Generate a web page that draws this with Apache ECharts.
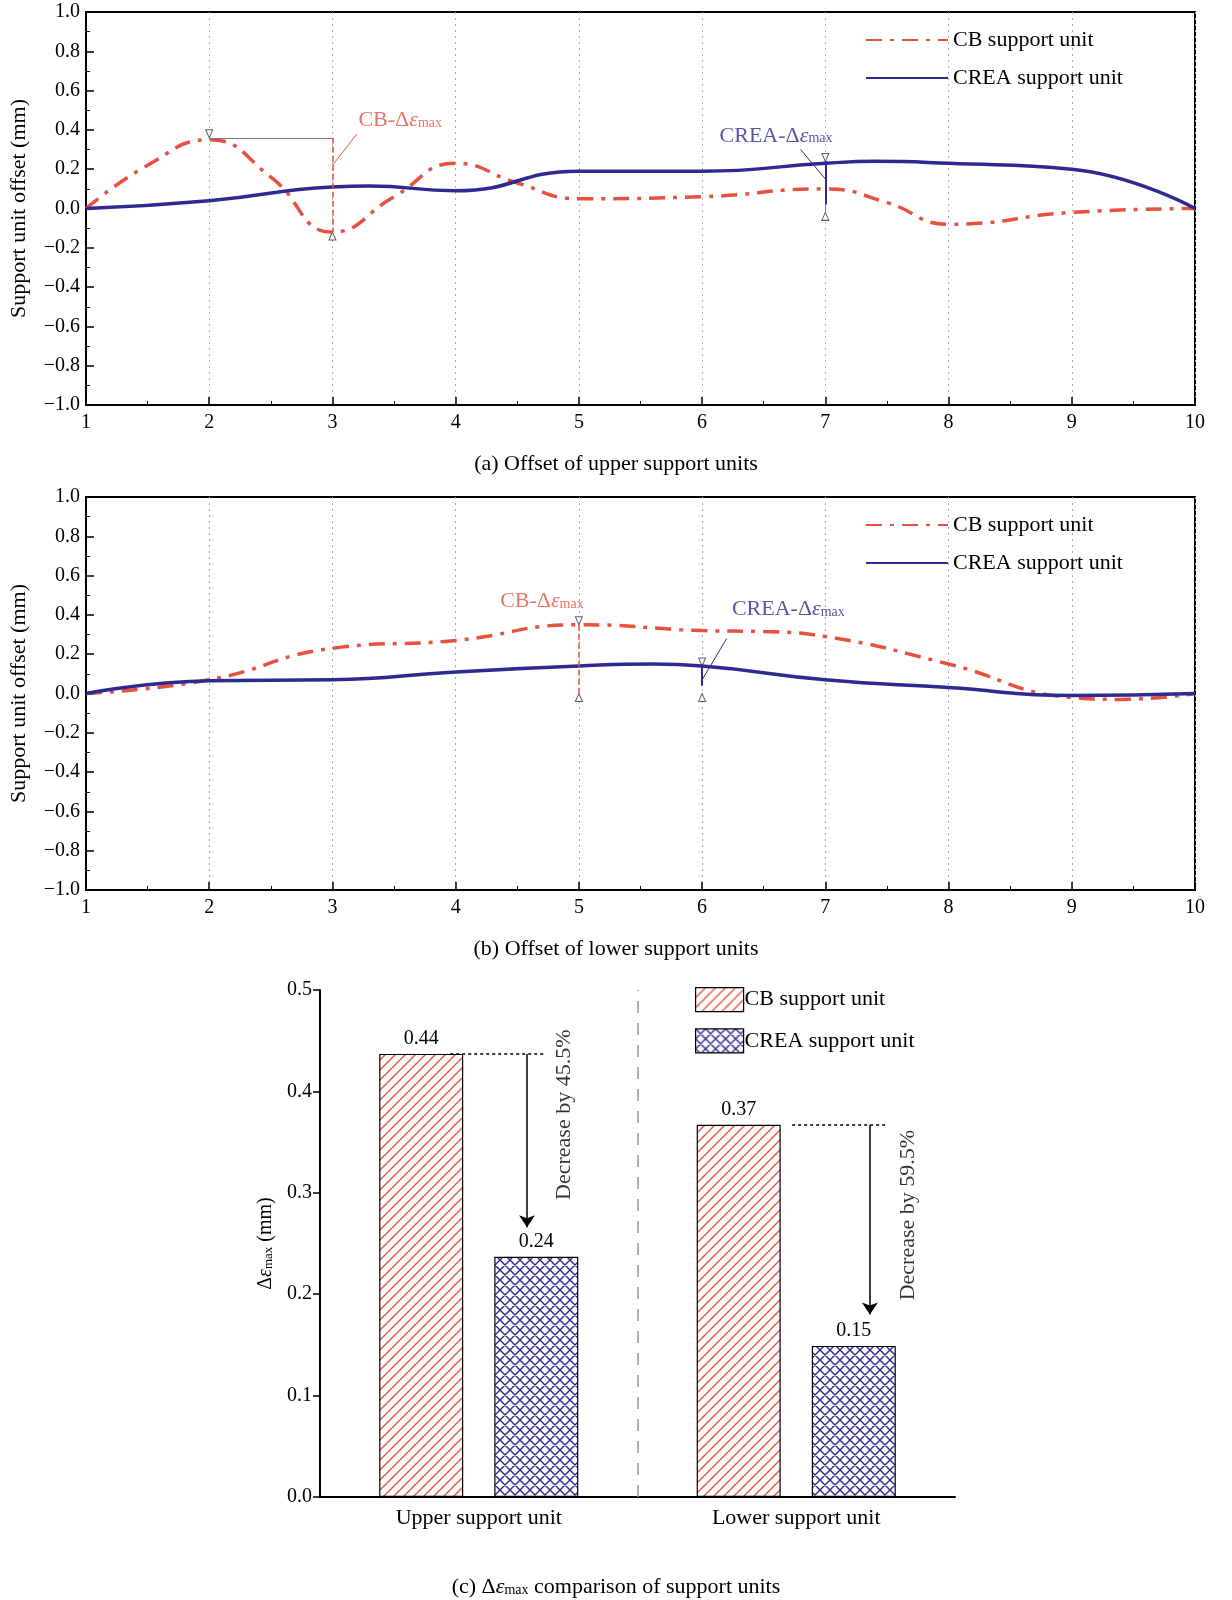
<!doctype html>
<html>
<head>
<meta charset="utf-8">
<script src="https://cdn.jsdelivr.net/npm/echarts@6/dist/echarts.min.js"></script>
<style>html,body{margin:0;background:#fff;overflow:hidden}#c{width:1232px;height:1600px}</style>
</head>
<body>
<div id="c"></div>
<script>
// panel (a) upper units
var upperCB = [[1,0],[1.5,0.22],[2,0.35],[2.5,0.16],[3,-0.12],[3.5,0.06],[4,0.23],[4.5,0.13],[5,0.05],[6,0.06],[7,0.1],[7.5,0.03],[8,-0.08],[9,-0.02],[10,0]];
var upperCREA = [[1,0],[2,0.04],[3,0.11],[3.3,0.115],[4,0.09],[5,0.19],[6,0.19],[7,0.23],[7.4,0.24],[8,0.23],[9,0.2],[10,0]];
// panel (b) lower units
var lowerCB = [[1,0],[2,0.07],[3,0.23],[4,0.27],[5,0.35],[6,0.32],[6.5,0.315],[7,0.29],[8,0.15],[9,-0.02],[9.4,-0.03],[10,0]];
var lowerCREA = [[1,0],[2,0.065],[3,0.07],[4,0.11],[5,0.14],[5.6,0.15],[6,0.14],[7,0.07],[8,0.03],[9,-0.01],[10,0]];
// panel (c)
var barCats = ['Upper support unit','Lower support unit'];
var barCB = [0.437, 0.367];
var barCREA = [0.237, 0.149];
var barLabels = [['0.44','0.37'],['0.24','0.15']];

var RED = '#e8503f', BLUE = '#2e2a8f', FONT = 'Liberation Serif';

function pattern(cross, color) {
  var c = document.createElement('canvas'); c.width = 10; c.height = 10;
  var g = c.getContext('2d');
  g.fillStyle = '#fff'; g.fillRect(0,0,10,10);
  g.strokeStyle = color; g.lineWidth = 1.4;
  g.beginPath(); g.moveTo(-2,12); g.lineTo(12,-2); g.moveTo(-2,2); g.lineTo(2,-2); g.moveTo(8,12); g.lineTo(12,8);
  if (cross) { g.moveTo(-2,-2); g.lineTo(12,12); g.moveTo(-2,8); g.lineTo(2,12); g.moveTo(8,-2); g.lineTo(12,2); }
  g.stroke();
  return {image: c, repeat: 'repeat'};
}

var rich = {e:{fontStyle:'italic',fontFamily:FONT}, s:{fontSize:14,fontFamily:FONT,padding:[6,0,0,0]}};
function fmt(v){ return v.toFixed(1).replace('-','\u2212'); }

var grids = [
  {left:82, right:37, top:12, height:393, show:true, borderColor:'#000', borderWidth:2},
  {left:82, right:37, top:497, height:393, show:true, borderColor:'#000', borderWidth:2},
  {left:320, width:635, top:990, height:507}
];

function xLine(i){ return {type:'value', gridIndex:i, min:1, max:10, interval:1,
  axisLine:{show:true,onZero:false,lineStyle:{color:'#000',width:2}}, axisTick:{inside:true,length:8,lineStyle:{color:'#000',width:1.5}},
  minorTick:{show:true,splitNumber:2,length:4,lineStyle:{color:'#000'}},
  axisLabel:{color:'#000',fontSize:20,fontFamily:FONT,margin:8},
  splitLine:{show:true,lineStyle:{color:'#aaa',type:[2,4]}}}; }
function yLine(i){ return {type:'value', gridIndex:i, min:-1, max:1, interval:0.2,
  name:'Support unit offset (mm)', nameLocation:'middle', nameGap:56, nameTextStyle:{fontSize:22,fontFamily:FONT,color:'#000'},
  axisLine:{show:true,onZero:false,lineStyle:{color:'#000',width:2}}, axisTick:{inside:true,length:8,lineStyle:{color:'#000',width:1.5}},
  minorTick:{show:true,splitNumber:2,length:4,lineStyle:{color:'#000'}},
  axisLabel:{color:'#000',fontSize:20,fontFamily:FONT,formatter:fmt,margin:6},
  splitLine:{show:false}}; }

function curve(name, data, i, dash){
  return {name:name, type:'line', xAxisIndex:i, yAxisIndex:i, data:data, smooth:0.5, symbol:'none',
    lineStyle: dash ? {color:RED,width:3.5,type:[16,8,4,8]} : {color:BLUE,width:3.5},
    itemStyle:{color: dash ? RED : BLUE}};
}
function seg(a,b,color,w,type,sym){ return [{coord:a, lineStyle:{color:color,width:w,type:type||'solid'}, symbol:sym?sym[0]:'none'},{coord:b, symbol:sym?sym[1]:'none'}]; }
function zeroLine(){ return [{yAxis:0, lineStyle:{color:'#999',width:1,type:[5,4]}},{yAxis:0}]; }
function lbl(i, pts){
  return {type:'scatter', xAxisIndex:i, yAxisIndex:i, symbolSize:0, silent:true,
    data: pts.map(function(p){ return {value:[p[0],p[1]], label:{show:true, position:'inside', fontSize:22, fontFamily:FONT, color:p[3],
      formatter:p[2], rich:rich}}; })};
}
function tri(i, pts){
  return {type:'scatter', xAxisIndex:i, yAxisIndex:i, silent:true, symbol:'triangle', symbolSize:[7,8],
    itemStyle:{color:'#fff',borderColor:'#333',borderWidth:1},
    data: pts.map(function(p){ return {value:[p[0],p[1]], symbolRotate:p[2]}; })};
}
function annotations(i, lines){
  return {type:'line', xAxisIndex:i, yAxisIndex:i, data:[], silent:true,
    markLine:{symbol:'none', label:{show:false}, data:lines}};
}
var legText = {fontSize:22,fontFamily:FONT,color:'#000'};

var option = {
  animation:false,
  textStyle:{fontFamily:FONT},
  grid: grids,
  title:[
    {text:'(a) Offset of upper support units', left:'center', top:448, textStyle:{fontSize:22,fontWeight:'normal',fontFamily:FONT,color:'#000'}},
    {text:'(b) Offset of lower support units', left:'center', top:933, textStyle:{fontSize:22,fontWeight:'normal',fontFamily:FONT,color:'#000'}},
    {text:'(c) \u0394{e|\u03b5}{s|max} comparison of support units', left:'center', top:1571,
      textStyle:{fontSize:22,fontWeight:'normal',fontFamily:FONT,color:'#000',rich:{e:{fontStyle:'italic',fontSize:22,fontFamily:FONT},s:{fontSize:14,fontFamily:FONT,padding:[6,0,0,0]}}}}
  ],
  legend:[
    {data:['CB support unit','CREA support unit'], orient:'vertical', left:860, top:24, itemGap:16, itemWidth:82, itemHeight:10,
      textStyle:legText, itemStyle:{opacity:0}},
    {data:['CB support unit ','CREA support unit '], orient:'vertical', left:860, top:509, itemGap:16, itemWidth:82, itemHeight:10,
      textStyle:legText, itemStyle:{opacity:0}},
    {data:['CB support unit  ','CREA support unit  '], orient:'vertical', left:690, top:982, itemGap:16, itemWidth:48, itemHeight:24,
      icon:'rect', itemStyle:{borderColor:'#000',borderWidth:1.2}, textStyle:{fontSize:22,fontFamily:FONT,color:'#000',padding:[0,0,0,-4]}}
  ],
  xAxis:[xLine(0), xLine(1),
    {type:'category', gridIndex:2, data:barCats, axisLine:{lineStyle:{color:'#000',width:2}}, axisTick:{show:false},
      axisLabel:{color:'#000',fontSize:22,fontFamily:FONT,margin:10}},
    {type:'value', gridIndex:2, min:0, max:2, show:false}],
  yAxis:[yLine(0), yLine(1),
    {type:'value', gridIndex:2, min:0, max:0.5, interval:0.1,
      name:'\u0394{e|\u03b5}{s|max} (mm)', nameLocation:'middle', nameGap:44,
      nameTextStyle:{fontSize:20,fontFamily:FONT,color:'#000',rich:{e:{fontStyle:'italic',fontSize:20,fontFamily:FONT},s:{fontSize:13,fontFamily:FONT,padding:[6,0,0,0]}}},
      axisLine:{show:true,lineStyle:{color:'#000',width:2}}, axisTick:{show:true,length:7,lineStyle:{color:'#000',width:1.5}},
      axisLabel:{color:'#000',fontSize:20,fontFamily:FONT,formatter:function(v){return v.toFixed(1);}}, splitLine:{show:false}}],
  series:[
    curve('CB support unit', upperCB, 0, true),
    curve('CREA support unit', upperCREA, 0, false),
    curve('CB support unit ', lowerCB, 1, true),
    curve('CREA support unit ', lowerCREA, 1, false),
    annotations(0, [
      zeroLine(),
      seg([2,0.36],[3,0.36],'#777',1.2),
      seg([3,0.36],[3,-0.12],RED,1.5,[6,3]),
      seg([3,0.22],[3.2,0.38],RED,1),
      seg([7,0.24],[7,0.02],BLUE,2),
      seg([7,0.02],[7,-0.02],'#777',1),
      seg([7,0.15],[6.8,0.3],BLUE,1)
    ]),
    annotations(1, [
      zeroLine(),
      seg([5,0.35],[5,0],RED,1.5,[6,3]),
      seg([6,0.14],[6,0.04],BLUE,2),
      seg([6,0.07],[6.2,0.28],BLUE,1)
    ]),
    lbl(0, [[3.55,0.45,'CB-\u0394{e|\u03b5}{s|max}',RED],[6.6,0.37,'CREA-\u0394{e|\u03b5}{s|max}',BLUE]]),
    lbl(1, [[4.7,0.47,'CB-\u0394{e|\u03b5}{s|max}',RED],[6.7,0.43,'CREA-\u0394{e|\u03b5}{s|max}',BLUE]]),
    tri(0, [[2,0.38,180],[3,-0.14,0],[7,0.26,180],[7,-0.04,0]]),
    tri(1, [[5,0.37,180],[5,-0.02,0],[6,0.16,180],[6,-0.02,0]]),
    {name:'CB support unit  ', type:'bar', xAxisIndex:2, yAxisIndex:2, data:barCB, barWidth:84, barGap:'37%',
      itemStyle:{color:pattern(false,RED), borderColor:'#000', borderWidth:1.2},
      label:{show:true, position:'top', fontSize:20, fontFamily:FONT, color:'#000', formatter:function(p){return barLabels[0][p.dataIndex];}}},
    {name:'CREA support unit  ', type:'bar', xAxisIndex:2, yAxisIndex:2, data:barCREA, barWidth:84,
      itemStyle:{color:pattern(true,BLUE), borderColor:'#000', borderWidth:1.2},
      label:{show:true, position:'top', fontSize:20, fontFamily:FONT, color:'#000', formatter:function(p){return barLabels[1][p.dataIndex];}}},
    {type:'line', xAxisIndex:3, yAxisIndex:2, data:[], silent:true,
      markLine:{symbol:'none', label:{show:false}, symbolSize:12, data:[
        seg([1,0],[1,0.5],'#999',1.5,[12,10]),
        seg([0.41,0.437],[0.71,0.437],'#000',1.5,[3,3]),
        seg([0.652,0.437],[0.652,0.266],'#000',1.5,'solid',['none','arrow']),
        seg([1.487,0.367],[1.78,0.367],'#000',1.5,[3,3]),
        seg([1.732,0.367],[1.732,0.18],'#000',1.5,'solid',['none','arrow'])
      ]}},
    {type:'scatter', xAxisIndex:3, yAxisIndex:2, symbolSize:0, silent:true,
      data:[{value:[0.77,0.377], label:{formatter:'Decrease by 45.5%'}},{value:[1.852,0.278], label:{formatter:'Decrease by 59.5%'}}],
      label:{show:true, position:'inside', rotate:90, fontSize:22, fontFamily:FONT, color:'#000'}}
  ]
};
echarts.init(document.getElementById('c')).setOption(option);
</script>
</body>
</html>
